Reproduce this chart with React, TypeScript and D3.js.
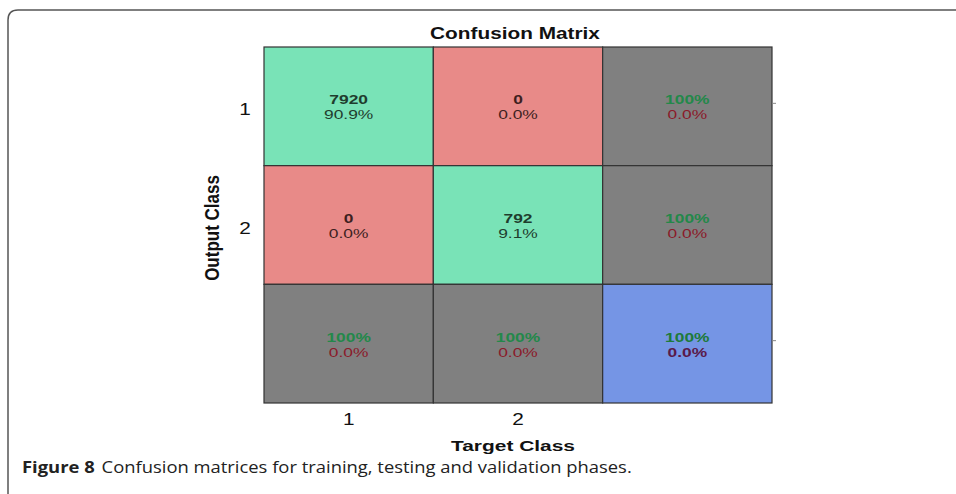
import React, { useEffect, useRef } from 'react';
import * as d3 from 'd3';

// class labels and confusion counts (rows = output class, cols = target class)
const classes = ['1', '2'];
const counts = [
  [7920, 0],
  [0, 792],
];
const rowCorrect = ['100%', '100%'];
const rowError = ['0.0%', '0.0%'];
const colCorrect = ['100%', '100%'];
const colError = ['0.0%', '0.0%'];
const totalCorrect = '100%';
const totalError = '0.0%';

const W = 956;
const H = 494;

const App = () => {
  const svgRef = useRef<SVGSVGElement>(null);

  useEffect(() => {
    const svg = d3.select(svgRef.current);
    svg.selectAll('*').remove();

    // outer figure frame (top + left with rounded corner)
    svg.append('path')
      .attr('d', `M8,${H} L8,20 Q8,10 18,10 L${W},10`)
      .attr('fill', 'none')
      .attr('stroke', '#555')
      .attr('stroke-width', 1.5);

    const keys = [...classes, 'all'];
    const x = d3.scaleBand().domain(keys).range([264, 772]);
    const y = d3.scaleBand().domain(keys).range([47, 403]);
    const total = d3.sum(counts.flat());

    const font = 'Arial, "Liberation Sans", sans-serif';
    const SX = 1.45; // the source figure is stretched horizontally

    const cells: any[] = [];
    keys.forEach((r, i) => {
      keys.forEach((c, j) => {
        let fill = '#808080';
        let l1 = '', l2 = '', c1 = '#23884a', c2 = '#8b1a2a', bold2 = false;
        if (r !== 'all' && c !== 'all') {
          const v = counts[i][j];
          fill = i === j ? '#79e3b7' : '#e88a88';
          l1 = String(v);
          l2 = d3.format('.1%')(v / total);
          c1 = i === j ? '#1f3d2e' : '#3d1f1f';
          c2 = c1;
        } else if (r !== 'all') {
          l1 = rowCorrect[i];
          l2 = rowError[i];
        } else if (c !== 'all') {
          l1 = colCorrect[j];
          l2 = colError[j];
        } else {
          fill = '#7595e5';
          l1 = totalCorrect;
          l2 = totalError;
          c1 = '#1e7a3a';
          c2 = '#5a1a4a';
          bold2 = true;
        }
        cells.push({ r, c, fill, l1, l2, c1, c2, bold2 });
      });
    });

    const g = svg.append('g');
    g.selectAll('rect.cell')
      .data(cells)
      .enter().append('rect')
      .attr('class', 'cell')
      .attr('x', d => x(d.c)!)
      .attr('y', d => y(d.r)!)
      .attr('width', x.bandwidth())
      .attr('height', y.bandwidth())
      .attr('fill', d => d.fill)
      .attr('stroke', '#333')
      .attr('stroke-width', 1.2);

    const cx = (d: any) => x(d.c)! + x.bandwidth() / 2;
    const cy = (d: any) => y(d.r)! + y.bandwidth() / 2;

    g.selectAll('text.l1')
      .data(cells)
      .enter().append('text')
      .attr('transform', d => `translate(${cx(d)},${cy(d) - 2}) scale(${SX},1)`)
      .attr('text-anchor', 'middle')
      .attr('font-family', font)
      .attr('font-size', 12)
      .attr('font-weight', 'bold')
      .attr('fill', d => d.c1)
      .text(d => d.l1);

    g.selectAll('text.l2')
      .data(cells)
      .enter().append('text')
      .attr('transform', d => `translate(${cx(d)},${cy(d) + 13}) scale(${SX},1)`)
      .attr('text-anchor', 'middle')
      .attr('font-family', font)
      .attr('font-size', 12)
      .attr('font-weight', d => (d.bold2 ? 'bold' : 'normal'))
      .attr('fill', d => d.c2)
      .text(d => d.l2);

    // small right-side ticks
    svg.selectAll('line.rt')
      .data(['1', 'all'])
      .enter().append('line')
      .attr('x1', 772).attr('x2', 776)
      .attr('y1', d => y(d)! + y.bandwidth() / 2 - 3)
      .attr('y2', d => y(d)! + y.bandwidth() / 2 - 3)
      .attr('stroke', '#888');

    // title
    svg.append('text')
      .attr('transform', `translate(515,39) scale(1.3,1)`)
      .attr('text-anchor', 'middle')
      .attr('font-family', font)
      .attr('font-size', 16)
      .attr('font-weight', 'bold')
      .attr('fill', '#111')
      .text('Confusion Matrix');

    // row tick labels
    svg.selectAll('text.rl')
      .data(classes)
      .enter().append('text')
      .attr('transform', d => `translate(245,${y(d)! + y.bandwidth() / 2 + 9}) scale(1.3,1)`)
      .attr('text-anchor', 'middle')
      .attr('font-family', font)
      .attr('font-size', 16)
      .attr('fill', '#111')
      .text(d => d);

    // column tick labels
    svg.selectAll('text.cl')
      .data(classes)
      .enter().append('text')
      .attr('transform', d => `translate(${x(d)! + x.bandwidth() / 2},425) scale(1.3,1)`)
      .attr('text-anchor', 'middle')
      .attr('font-family', font)
      .attr('font-size', 16)
      .attr('fill', '#111')
      .text(d => d);

    svg.append('text')
      .attr('transform', 'translate(513,451) scale(1.35,1)')
      .attr('text-anchor', 'middle')
      .attr('font-family', font)
      .attr('font-size', 15.5)
      .attr('font-weight', 'bold')
      .attr('fill', '#111')
      .text('Target Class');

    svg.append('text')
      .attr('transform', 'translate(219,228) rotate(-90) scale(1,1.2)')
      .attr('text-anchor', 'middle')
      .attr('font-family', '"Liberation Sans Narrow", "Arial Narrow", Arial, sans-serif')
      .attr('font-size', 17)
      .attr('font-weight', 'bold')
      .attr('fill', '#111')
      .text('Output Class');

    // caption
    const cap = svg.append('text')
      .attr('transform', 'translate(22,473) scale(1.15,1)')
      .attr('font-family', '"Open Sans", sans-serif')
      .attr('font-size', 16)
      .attr('fill', '#222');
    cap.append('tspan').attr('font-weight', 'bold').text('Figure 8');
    cap.append('tspan').attr('dx', 6).text('Confusion matrices for training, testing and validation phases.');
  }, []);

  return (
    <svg ref={svgRef} width={W} height={H}
      style={{ position: 'absolute', left: 0, top: 0, background: '#fff' }} />
  );
};

export default App;
